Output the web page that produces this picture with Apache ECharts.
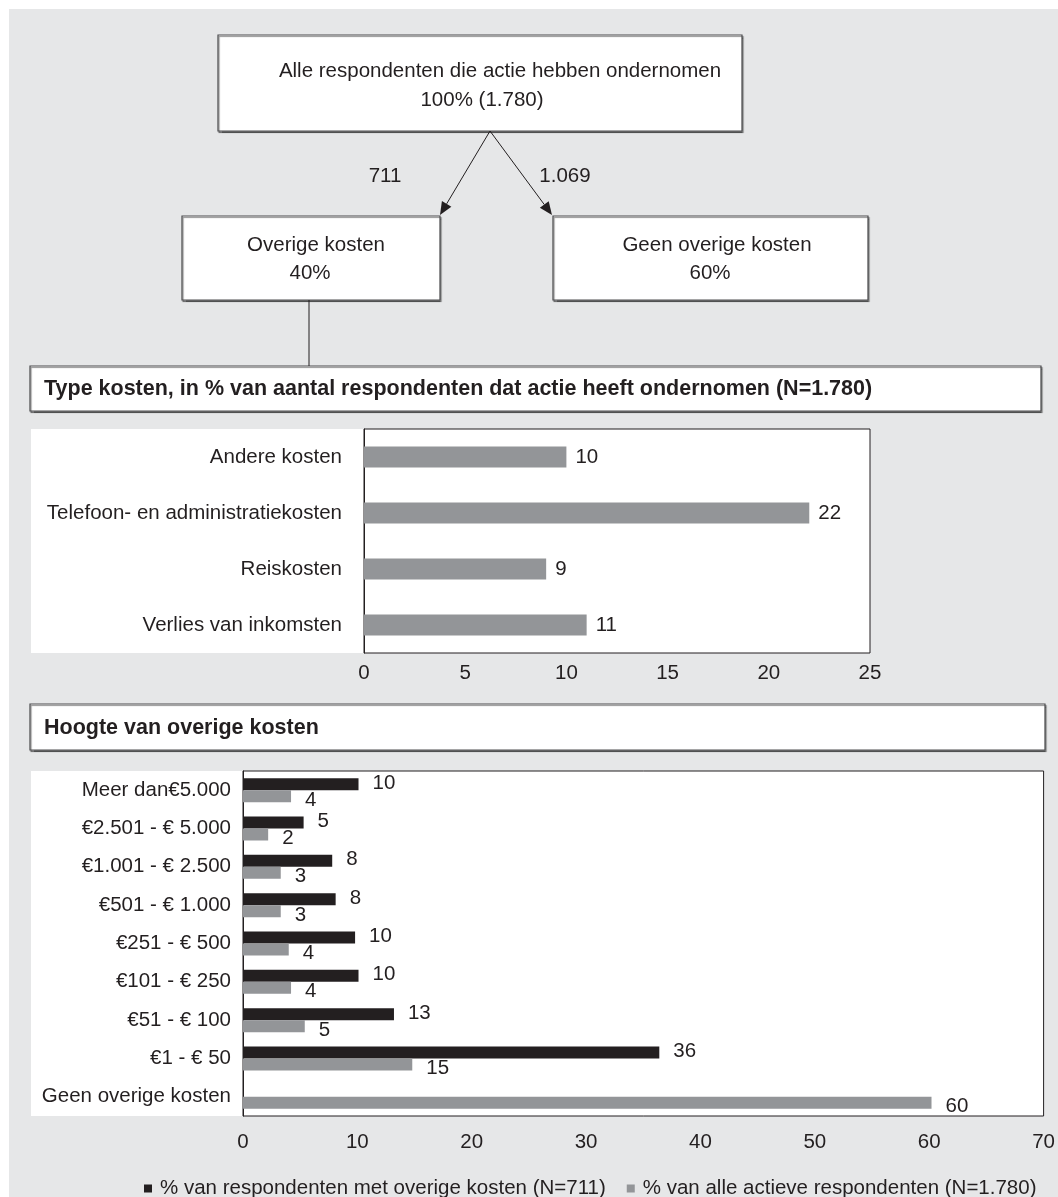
<!DOCTYPE html>
<html>
<head>
<meta charset="utf-8">
<script src="https://cdn.jsdelivr.net/npm/echarts@6/dist/echarts.min.js"></script>
<style>
html,body{margin:0;padding:0;background:#fff;}
#c{width:1058px;height:1197px;}
</style>
</head>
<body>
<div id="c"></div>
<script>
// ---- data ----
var rootText = 'Alle respondenten die actie hebben ondernomen';
var rootValue = '100% (1.780)';
var branchCounts = ['711', '1.069'];
var branchNames = ['Overige kosten', 'Geen overige kosten'];
var branchShares = ['40%', '60%'];

var title1 = 'Type kosten, in % van aantal respondenten dat actie heeft ondernomen (N=1.780)';
var typeCategories = ['Andere kosten', 'Telefoon- en administratiekosten', 'Reiskosten', 'Verlies van inkomsten'];
var typeValues = [10, 22, 9, 11];
var typeTicks = [0, 5, 10, 15, 20, 25];

var title2 = 'Hoogte van overige kosten';
var amountCategories = ['Meer dan\u20AC5.000', '\u20AC2.501 - \u20AC 5.000', '\u20AC1.001 - \u20AC 2.500', '\u20AC501 - \u20AC 1.000',
  '\u20AC251 - \u20AC 500', '\u20AC101 - \u20AC 250', '\u20AC51 - \u20AC 100', '\u20AC1 - \u20AC 50', 'Geen overige kosten'];
var withCosts = [10.1, 5.3, 7.8, 8.1, 9.8, 10.1, 13.2, 36.4, null];
var allActive = [4.2, 2.2, 3.3, 3.3, 4.0, 4.2, 5.4, 14.8, 60.2];
var amountTicks = [0, 10, 20, 30, 40, 50, 60, 70];
var seriesNames = ['% van respondenten met overige kosten (N=711)', '% van alle actieve respondenten (N=1.780)'];

// ---- styles ----
var FONT = 'Liberation Sans';
var FS = 20.5;
var TXT = '#231f20';
var GRAY = '#939598';
var BLACK = '#231f20';
var BG = '#e6e7e8';

function box(x, y, w, h) {
  return {type: 'rect', z: 5, shape: {x: x, y: y, width: w, height: h},
    style: {fill: '#fff', stroke: '#4d4d4f', lineWidth: 1.2, shadowColor: 'rgba(0,0,0,0.45)', shadowOffsetX: 1, shadowOffsetY: 1.5, shadowBlur: 1}};
}
function txt(s, x, y, opts) {
  opts = opts || {};
  return {type: 'text', z: 10, x: x, y: y,
    style: {text: s, fill: TXT, fontFamily: FONT, fontSize: opts.size || FS, fontWeight: opts.weight || 'normal',
      align: opts.align || 'center', verticalAlign: 'middle'}};
}
function arrow(x1, y1, x2, y2) {
  var dx = x2 - x1, dy = y2 - y1, L = Math.sqrt(dx * dx + dy * dy);
  var ux = dx / L, uy = dy / L, al = 13, aw = 5.5;
  var bx = x2 - ux * al, by = y2 - uy * al;
  return [
    {type: 'line', z: 6, shape: {x1: x1, y1: y1, x2: bx, y2: by}, style: {stroke: '#231f20', lineWidth: 1}},
    {type: 'polygon', z: 6, shape: {points: [[x2, y2], [bx - uy * aw, by + ux * aw], [bx + uy * aw, by - ux * aw]]},
      style: {fill: '#231f20'}}
  ];
}

var graphics = [
  {type: 'rect', z: -10, shape: {x: 9, y: 9, width: 1049, height: 1188}, style: {fill: BG}},
  // white panels behind charts
  {type: 'rect', z: -5, shape: {x: 31, y: 429, width: 333, height: 224}, style: {fill: '#fff'}},
  {type: 'rect', z: -5, shape: {x: 31, y: 771, width: 212, height: 345}, style: {fill: '#fff'}},
  // flow diagram
  box(218, 35, 524, 96),
  txt(rootText, 500, 71),
  txt(rootValue, 482, 100),
  box(182, 216, 258, 84),
  txt(branchNames[0], 316, 245),
  txt(branchShares[0], 310, 273),
  box(553, 216, 315, 84),
  txt(branchNames[1], 717, 245),
  txt(branchShares[1], 710, 273),
  txt(branchCounts[0], 385, 176),
  txt(branchCounts[1], 565, 176),
  {type: 'line', z: 6, shape: {x1: 309, y1: 300, x2: 309, y2: 366}, style: {stroke: '#231f20', lineWidth: 1}},
  // title boxes
  box(30, 366, 1011, 45),
  txt(title1, 44, 389, {align: 'left', weight: 'bold', size: 21.5}),
  box(30, 704, 1015, 46),
  txt(title2, 44, 728, {align: 'left', weight: 'bold', size: 21.5})
].concat(arrow(490, 131, 440, 215)).concat(arrow(490, 131, 552, 215));

var labelStyle = {fontFamily: FONT, fontSize: FS, color: TXT};

var option = {
  backgroundColor: '#fff',
  animation: false,
  textStyle: {fontFamily: FONT},
  graphic: graphics,
  grid: [
    {left: 364, top: 429, width: 506, height: 224, show: true, backgroundColor: '#fff', borderColor: '#231f20', borderWidth: 1, containLabel: false},
    {left: 243, top: 771, width: 802, height: 345, show: true, backgroundColor: '#fff', borderColor: '#231f20', borderWidth: 1, containLabel: false}
  ],
  xAxis: [
    {gridIndex: 0, type: 'value', min: typeTicks[0], max: typeTicks[typeTicks.length - 1], interval: typeTicks[1] - typeTicks[0],
      axisLine: {show: false}, axisTick: {show: false}, splitLine: {show: false},
      axisLabel: Object.assign({margin: 10}, labelStyle)},
    {gridIndex: 1, type: 'value', min: amountTicks[0], max: amountTicks[amountTicks.length - 1], interval: amountTicks[1] - amountTicks[0],
      axisLine: {show: false}, axisTick: {show: false}, splitLine: {show: false},
      axisLabel: Object.assign({margin: 16}, labelStyle)}
  ],
  yAxis: [
    {gridIndex: 0, type: 'category', inverse: true, data: typeCategories,
      axisLine: {show: true, lineStyle: {color: '#231f20', width: 1}}, axisTick: {show: false},
      axisLabel: Object.assign({margin: 22}, labelStyle)},
    {gridIndex: 1, type: 'category', inverse: true, data: amountCategories,
      axisLine: {show: true, lineStyle: {color: '#231f20', width: 1}}, axisTick: {show: false},
      axisLabel: Object.assign({margin: 12}, labelStyle)}
  ],
  legend: {
    data: seriesNames, left: 144, top: 1178, padding: 0, icon: 'rect', itemWidth: 8, itemHeight: 8, itemGap: 21,
    textStyle: {fontFamily: FONT, fontSize: FS, color: TXT, padding: [0, 0, 0, 3]}
  },
  series: [
    {type: 'bar', xAxisIndex: 0, yAxisIndex: 0, data: typeValues, barWidth: 21,
      itemStyle: {color: GRAY},
      label: {show: true, position: 'right', distance: 9, fontFamily: FONT, fontSize: FS, color: TXT}},
    {name: seriesNames[0], type: 'bar', xAxisIndex: 1, yAxisIndex: 1, data: withCosts, barWidth: 12, barGap: '0%',
      itemStyle: {color: BLACK},
      label: {show: true, position: 'right', distance: 14, offset: [0, -1], fontFamily: FONT, fontSize: FS, color: TXT,
        formatter: function (p) { return Math.round(p.value); }}},
    {name: seriesNames[1], type: 'bar', xAxisIndex: 1, yAxisIndex: 1, data: allActive, barWidth: 12, barGap: '0%',
      itemStyle: {color: GRAY},
      label: {show: true, position: 'right', distance: 14, offset: [0, 4], fontFamily: FONT, fontSize: FS, color: TXT,
        formatter: function (p) { return Math.round(p.value); }}}
  ]
};

var chart = echarts.init(document.getElementById('c'), null, {renderer: 'canvas'});
chart.setOption(option);
</script>
</body>
</html>
